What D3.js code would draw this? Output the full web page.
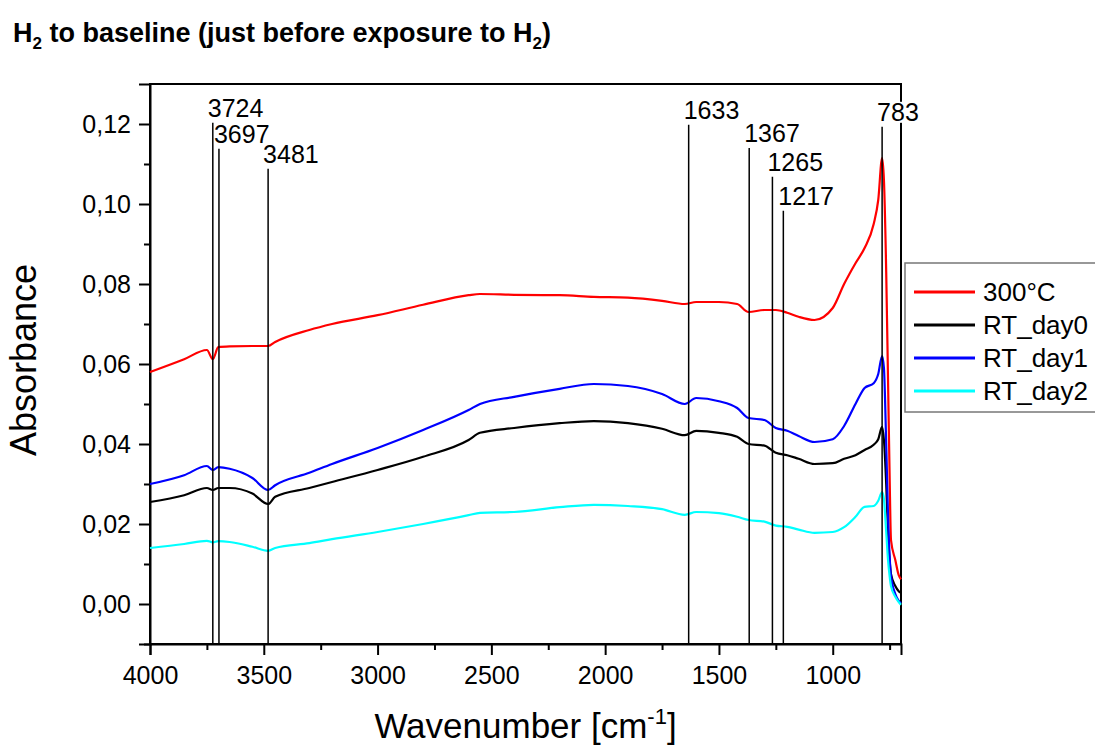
<!DOCTYPE html>
<html>
<head>
<meta charset="utf-8">
<script src="https://cdn.jsdelivr.net/npm/d3@7/dist/d3.min.js"></script>
<style>
  body { margin: 0; background: #fff; }
  text { font-family: "Liberation Sans", Arial, sans-serif; fill: #000; }
</style>
</head>
<body>
<svg id="chart" width="1095" height="749"></svg>
<script>
// Wavenumbers (cm-1) shared by all spectra
const wavenumbers = [4000, 3850, 3750, 3724, 3700, 3650, 3550, 3481, 3450, 3300, 3200, 3000, 2800, 2600, 2550,
    2400, 2200, 2050, 1900, 1750, 1650, 1600, 1500, 1420, 1370, 1300, 1250, 1200, 1150, 1080, 1000, 950, 900,
    860, 820, 800, 783, 775, 765, 757, 750, 744, 725, 710, 700];

// Absorbance of each spectrum
const abs300C = [.0580, .0612, .0635, .0612, .0642, .0644, .0645, .0645, .0655, .0685, .0700, .0722, .0748, .0772, .0775,
    .0773, .0772, .0768, .0766, .0758, .0750, .0755, .0755, .0750, .0730, .0735, .0735, .0728, .0718, .0710, .0740, .0800, .0852,
    .0890, .0950, .1010, .1115, .1060, .0830, .0560, .0320, .0160, .0110, .0072, .0062];
const absDay0 = [.0255, .0272, .0290, .0285, .0290, .0290, .0276, .0250, .0268, .0290, .0305, .0335, .0368, .0410, .0428,
    .0440, .0452, .0457, .0452, .0438, .0422, .0433, .0428, .0418, .0400, .0396, .0378, .0372, .0363, .0350, .0352, .0363, .0372,
    .0385, .0398, .0412, .0443, .0410, .0300, .0180, .0110, .0075, .0045, .0032, .0028];
const absDay1 = [.0300, .0322, .0345, .0335, .0342, .0338, .0315, .0285, .0297, .0328, .0350, .0390, .0435, .0485, .0500,
    .0518, .0538, .0550, .0545, .0525, .0500, .0515, .0507, .0490, .0465, .0460, .0440, .0433, .0420, .0405, .0412, .0445, .0500,
    .0540, .0552, .0575, .0620, .0590, .0400, .0220, .0120, .0070, .0025, .0008, .0002];
const absDay2 = [.0140, .0150, .0158, .0154, .0157, .0155, .0143, .0133, .0140, .0152, .0162, .0180, .0200, .0222, .0228,
    .0230, .0242, .0248, .0245, .0237, .0223, .0230, .0227, .0218, .0210, .0206, .0196, .0193, .0186, .0178, .0180, .0192, .0218,
    .0243, .0245, .0258, .0280, .0262, .0180, .0110, .0070, .0045, .0018, .0005, -.0002];

const seriesNames = ['300°C', 'RT_day0', 'RT_day1', 'RT_day2'];
const seriesColors = ['#ff0000', '#000000', '#0000ff', '#00ffff'];
const seriesValues = [abs300C, absDay0, absDay1, absDay2];

// Marked bands and the absorbance where each marker line starts
const markerBands = [3724, 3697, 3481, 1633, 1367, 1265, 1217, 783];
const markerTops = [0.1203, 0.1138, 0.1088, 0.1198, 0.1140, 0.1068, 0.0983, 0.1193];

const xMajorTicks = [4000, 3500, 3000, 2500, 2000, 1500, 1000];
const yMajorTicks = [0, 0.02, 0.04, 0.06, 0.08, 0.10, 0.12];

// Layout
const margin = { top: 84, right: 194, bottom: 105, left: 150 };
const W = 1095, H = 749;
const width = W - margin.left - margin.right;
const height = H - margin.top - margin.bottom;

const svg = d3.select('#chart');
const g = svg.append('g').attr('transform', `translate(${margin.left},${margin.top})`);

const x = d3.scaleLinear().domain([4000, 700]).range([0, width]);
const y = d3.scaleLinear().domain([-0.01, 0.13]).range([height, 0]);

const fmt = d3.formatLocale({ decimal: ',', thousands: '.', grouping: [3], currency: ['', ''] }).format('.2f');

// Frame
g.append('rect')
    .attr('width', width).attr('height', height)
    .attr('fill', 'none').attr('stroke', '#000').attr('stroke-width', 2);

// X axis: major + minor ticks
const xMinor = d3.range(4000, 699, -250).filter(v => !xMajorTicks.includes(v));
g.append('g')
    .attr('transform', `translate(0,${height})`)
    .call(d3.axisBottom(x).tickValues(xMinor).tickSize(6).tickFormat(''))
    .call(a => a.select('.domain').remove());
const xAxis = g.append('g')
    .attr('transform', `translate(0,${height})`)
    .call(d3.axisBottom(x).tickValues(xMajorTicks).tickSize(11).tickPadding(8).tickFormat(d3.format('d')));
xAxis.select('.domain').attr('stroke-width', 2);
xAxis.selectAll('text').attr('font-size', 25).attr('dy', '0.82em');

// Y axis: major + minor ticks
const yMinor = [-0.01, 0.01, 0.03, 0.05, 0.07, 0.09, 0.11];
g.append('g')
    .call(d3.axisLeft(y).tickValues(yMinor).tickSize(6).tickFormat(''))
    .call(a => a.select('.domain').remove());
const yAxis = g.append('g')
    .call(d3.axisLeft(y).tickValues(yMajorTicks).tickSize(11).tickPadding(8).tickFormat(fmt));
yAxis.select('.domain').attr('stroke-width', 2);
yAxis.selectAll('text').attr('font-size', 25);
svg.selectAll('.tick line').attr('stroke-width', 2);

// Spectra
const line = d3.line()
    .x((d, i) => x(wavenumbers[i]))
    .y(d => y(d))
    .curve(d3.curveMonotoneX);
seriesValues.forEach((vals, k) => {
    g.append('path')
        .datum(vals)
        .attr('d', line)
        .attr('fill', 'none')
        .attr('stroke', seriesColors[k])
        .attr('stroke-width', 2.2)
        .attr('stroke-linejoin', 'round');
});

// Marker lines with labels
markerBands.forEach((b, i) => {
    g.append('line')
        .attr('x1', x(b)).attr('x2', x(b))
        .attr('y1', y(markerTops[i])).attr('y2', height)
        .attr('stroke', '#000').attr('stroke-width', 1.5);
});
const labels = g.selectAll('.mlabel')
    .data(markerBands)
    .enter().append('g')
    .attr('class', 'mlabel')
    .attr('transform', (d, i) => `translate(${x(d) - 5},${y(markerTops[i]) - 6})`);
labels.append('rect')
    .attr('x', 0).attr('y', -19)
    .attr('width', d => String(d).length * 14)
    .attr('height', 21)
    .attr('fill', '#fff');
labels.append('text')
    .text(d => d)
    .attr('font-size', 25);

// Legend
const legend = svg.append('g').attr('transform', 'translate(905,263)');
legend.append('rect')
    .attr('width', 200).attr('height', 149)
    .attr('fill', '#fff').attr('stroke', '#777').attr('stroke-width', 1.5);
seriesNames.forEach((name, i) => {
    const row = legend.append('g').attr('transform', `translate(0,${29 + i * 33})`);
    row.append('line')
        .attr('x1', 9).attr('x2', 70)
        .attr('stroke', seriesColors[i]).attr('stroke-width', 3);
    row.append('text')
        .attr('x', 78).attr('dy', '0.35em')
        .attr('font-size', 26)
        .text(name);
});

// Axis titles
svg.append('text')
    .attr('x', margin.left + width / 2).attr('y', 738)
    .attr('text-anchor', 'middle').attr('font-size', 35)
    .html('Wavenumber [cm<tspan dy="-14" font-size="22">-1</tspan><tspan dy="14">]</tspan>');
svg.append('text')
    .attr('transform', `translate(36,${margin.top + height / 2 - 4}) rotate(-90)`)
    .attr('text-anchor', 'middle').attr('font-size', 36)
    .text('Absorbance');

// Title
svg.append('text')
    .attr('x', 13).attr('y', 42)
    .attr('font-size', 27).attr('font-weight', 'bold')
    .html('H<tspan dy="7" font-size="17">2</tspan><tspan dy="-7"> to baseline (just before exposure to H</tspan><tspan dy="7" font-size="17">2</tspan><tspan dy="-7">)</tspan>');
</script>
</body>
</html>
